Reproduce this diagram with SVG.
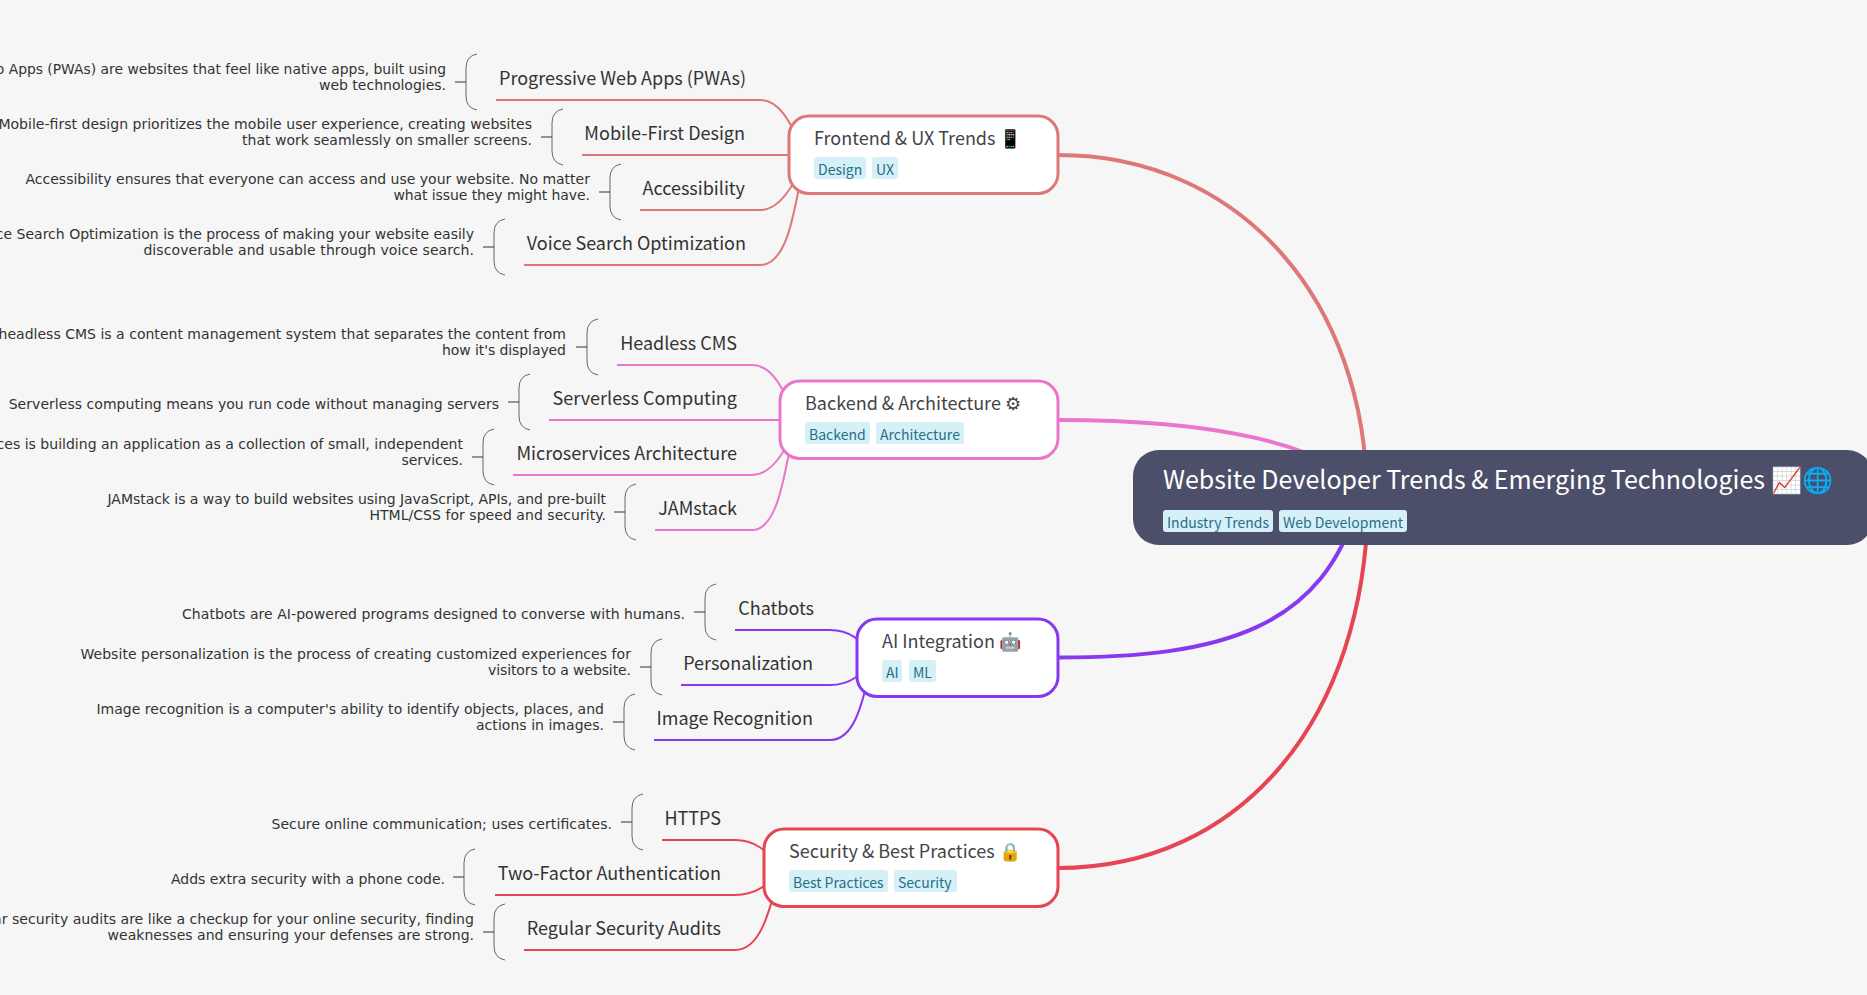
<svg xmlns="http://www.w3.org/2000/svg" width="1867" height="995" viewBox="0 0 1867 995">
<defs><style>
text{font-family:"Noto Sans CJK SC","Noto Sans",sans-serif}
.l{font-size:18px;fill:#333;text-anchor:end}
.d{font-family:"DejaVu Sans",sans-serif;font-size:14px;fill:#333;text-anchor:end}
.n{font-size:18px;fill:#444446}
.t{font-size:14px;fill:#276f86}
.tb{fill:#d6f0f8}
.nb{fill:#fff;stroke-width:3}
.br{fill:none;stroke:#666;stroke-width:1}
.st{stroke:#333;stroke-width:1}
.c{fill:none;stroke-width:2}
.m{fill:none;stroke-width:4}
</style></defs>
<rect width="1867" height="995" fill="#f6f6f6"/>
<g id="connectors">
<path class="m" stroke="#dd7878" d="M1058 155C1240 155 1366 300 1367 497"/>
<path class="m" stroke="#ea76cb" d="M1058 420C1200 420 1330 440 1368 497"/>
<path class="m" stroke="#8839ef" d="M1058 657.500C1220 657.500 1325 630 1360 497"/>
<path class="m" stroke="#e64553" d="M1058 868C1240 868 1367 720 1368 497"/>
<g stroke="#dd7878"><path class="c" d="M496 100H760C780 100 790 122 806 155"/><path class="c" d="M582 155H802"/><path class="c" d="M640 210H760C780 210 795 185 806 155"/><path class="c" d="M524 265H760C785 265 793 225 806 150"/></g>
<g stroke="#ea76cb"><path class="c" d="M617 365H752C772 365 782 387 798 420"/><path class="c" d="M549 420H794"/><path class="c" d="M513 475H752C772 475 787 450 798 420"/><path class="c" d="M655 530H752C775 530 783 490 796 415"/></g>
<g stroke="#8839ef"><path class="c" d="M735 630H830C850 630 860 640 876 657"/><path class="c" d="M681 685H830C850 685 862 675 876 657"/><path class="c" d="M654 740H830C853 740 862 710 874 652"/></g>
<g stroke="#e64553"><path class="c" d="M662 840H735C755 840 765 850 783 868"/><path class="c" d="M495 895H735C755 895 769 885 783 868"/><path class="c" d="M524 950H735C758 950 769 920 781 863"/></g>
</g>
<g id="root"><rect x="1133" y="450" width="740" height="95" rx="26" fill="#4c4f69"/><text x="1163" y="489" font-size="25" fill="#fff">Website Developer Trends &amp; Emerging Technologies 📈🌐</text>
<rect class="tb" x="1163" y="510" width="110" height="22" rx="3"/><text class="t" x="1167" y="528">Industry Trends</text><rect class="tb" x="1279" y="510" width="128" height="22" rx="3"/><text class="t" x="1283" y="528">Web Development</text></g>
<g id="frontend"><rect class="nb" stroke="#dd7878" x="789" y="116" width="269" height="77.500" rx="20"/><text class="n" x="814" y="145">Frontend &amp; UX Trends 📱</text><rect class="tb" x="814" y="157" width="52" height="22" rx="3"/><text class="t" x="818" y="175">Design</text><rect class="tb" x="872" y="157" width="26" height="22" rx="3"/><text class="t" x="876" y="175">UX</text></g>
<g id="backend"><rect class="nb" stroke="#ea76cb" x="780" y="381" width="278" height="77.500" rx="20"/><text class="n" x="805" y="410">Backend &amp; Architecture ⚙</text><rect class="tb" x="805" y="422" width="65" height="22" rx="3"/><text class="t" x="809" y="440">Backend</text><rect class="tb" x="876" y="422" width="88" height="22" rx="3"/><text class="t" x="880" y="440">Architecture</text></g>
<g id="ai"><rect class="nb" stroke="#8839ef" x="857" y="619" width="201" height="77.500" rx="20"/><text class="n" x="882" y="648">AI Integration 🤖</text><rect class="tb" x="882" y="660" width="20" height="22" rx="3"/><text class="t" x="886" y="678">AI</text><rect class="tb" x="909" y="660" width="27" height="22" rx="3"/><text class="t" x="913" y="678">ML</text></g>
<g id="security"><rect class="nb" stroke="#e64553" x="764" y="829" width="294" height="77.500" rx="20"/><text class="n" x="789" y="858">Security &amp; Best Practices 🔒</text><rect class="tb" x="789" y="870" width="99" height="22" rx="3"/><text class="t" x="793" y="888">Best Practices</text><rect class="tb" x="894" y="870" width="63" height="22" rx="3"/><text class="t" x="898" y="888">Security</text></g>
<g id="leaf-pwa"><text class="l" x="746" y="85">Progressive Web Apps (PWAs)</text><path class="br" d="M477 54Q466 56 466 68V96Q466 108 477 110"/><path class="st" d="M455 82H466"/><text class="d" x="446" y="74" font-size="13.87" style="font-size:13.87px">Progressive Web Apps (PWAs) are websites that feel like native apps, built using</text><text class="d" x="446" y="90" textLength="127">web technologies.</text></g>
<g id="leaf-mobile"><text class="l" x="745" y="140">Mobile-First Design</text><path class="br" d="M563 109Q552 111 552 123V151Q552 163 563 165"/><path class="st" d="M541 137H552"/><text class="d" x="532" y="129" style="font-size:14.06px">Mobile-first design prioritizes the mobile user experience, creating websites</text><text class="d" x="532" y="145" textLength="290">that work seamlessly on smaller screens.</text></g>
<g id="leaf-access"><text class="l" x="745" y="195">Accessibility</text><path class="br" d="M621 164Q610 166 610 178V206Q610 218 621 220"/><path class="st" d="M599 192H610"/><text class="d" x="590" y="184" textLength="564.500">Accessibility ensures that everyone can access and use your website. No matter</text><text class="d" x="590" y="200" textLength="196.600">what issue they might have.</text></g>
<g id="leaf-voice"><text class="l" x="746" y="250">Voice Search Optimization</text><path class="br" d="M505 219Q494 221 494 233V261Q494 273 505 275"/><path class="st" d="M483 247H494"/><text class="d" x="474" y="239">Voice Search Optimization is the process of making your website easily</text><text class="d" x="474" y="255" textLength="330.600">discoverable and usable through voice search.</text></g>
<g id="leaf-headless"><text class="l" x="737" y="350">Headless CMS</text><path class="br" d="M598 319Q587 321 587 333V361Q587 373 598 375"/><path class="st" d="M576 347H587"/><text class="d" x="566" y="339" style="font-size:14.04px">A headless CMS is a content management system that separates the content from</text><text class="d" x="566" y="355" textLength="124">how it's displayed</text></g>
<g id="leaf-serverless"><text class="l" x="737" y="405">Serverless Computing</text><path class="br" d="M530 374Q519 376 519 388V416Q519 428 530 430"/><path class="st" d="M508 402H519"/><text class="d" x="499" y="409" textLength="490.300">Serverless computing means you run code without managing servers</text></g>
<g id="leaf-micro"><text class="l" x="737" y="460">Microservices Architecture</text><path class="br" d="M494 429Q483 431 483 443V471Q483 483 494 485"/><path class="st" d="M472 457H483"/><text class="d" x="463" y="449" style="font-size:14.04px">Microservices is building an application as a collection of small, independent</text><text class="d" x="463" y="465" textLength="61.500">services.</text></g>
<g id="leaf-jam"><text class="l" x="737" y="515">JAMstack</text><path class="br" d="M636 484Q625 486 625 498V526Q625 538 636 540"/><path class="st" d="M614 512H625"/><text class="d" x="606" y="504" textLength="498.500">JAMstack is a way to build websites using JavaScript, APIs, and pre-built</text><text class="d" x="606" y="520" textLength="236.600">HTML/CSS for speed and security.</text></g>
<g id="leaf-chat"><text class="l" x="814" y="615">Chatbots</text><path class="br" d="M716 584Q705 586 705 598V626Q705 638 716 640"/><path class="st" d="M694 612H705"/><text class="d" x="685" y="619" textLength="503">Chatbots are AI-powered programs designed to converse with humans.</text></g>
<g id="leaf-person"><text class="l" x="813" y="670">Personalization</text><path class="br" d="M662 639Q651 641 651 653V681Q651 693 662 695"/><path class="st" d="M640 667H651"/><text class="d" x="631" y="659" textLength="550.600">Website personalization is the process of creating customized experiences for</text><text class="d" x="631" y="675" textLength="143">visitors to a website.</text></g>
<g id="leaf-image"><text class="l" x="813" y="725">Image Recognition</text><path class="br" d="M635 694Q624 696 624 708V736Q624 748 635 750"/><path class="st" d="M613 722H624"/><text class="d" x="604" y="714" textLength="507.600">Image recognition is a computer's ability to identify objects, places, and</text><text class="d" x="604" y="730" textLength="128">actions in images.</text></g>
<g id="leaf-https"><text class="l" x="721" y="825">HTTPS</text><path class="br" d="M643 794Q632 796 632 808V836Q632 848 643 850"/><path class="st" d="M621 822H632"/><text class="d" x="612" y="829" textLength="340.600">Secure online communication; uses certificates.</text></g>
<g id="leaf-2fa"><text class="l" x="721" y="880">Two-Factor Authentication</text><path class="br" d="M475 849Q464 851 464 863V891Q464 903 475 905"/><path class="st" d="M453 877H464"/><text class="d" x="445" y="884" textLength="274">Adds extra security with a phone code.</text></g>
<g id="leaf-audit"><text class="l" x="721" y="935">Regular Security Audits</text><path class="br" d="M505 904Q494 906 494 918V946Q494 958 505 960"/><path class="st" d="M483 932H494"/><text class="d" x="474" y="924" style="font-size:14.1px">Regular security audits are like a checkup for your online security, finding</text><text class="d" x="474" y="940" textLength="366.400">weaknesses and ensuring your defenses are strong.</text></g>
</svg>
